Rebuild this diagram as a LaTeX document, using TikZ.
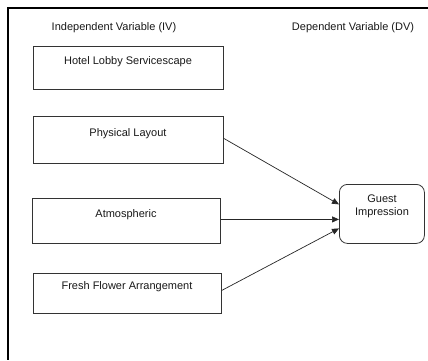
\documentclass[tikz,border=0pt]{standalone}
\usepackage{fontspec}
\setmainfont{Liberation Sans}
\usetikzlibrary{arrows.meta,calc}
\begin{document}
\begin{tikzpicture}[x=1pt,y=-1pt,
  box/.style={draw=black!80, line width=0.8pt, inner sep=0pt, anchor=north west},
  txt/.style={font=\fontsize{11}{13}\selectfont, text=black!90, inner sep=0pt},
  conn/.style={draw=black!85, line width=0.7pt, -{Triangle[length=7pt,width=6pt]}}]
\useasboundingbox (0,0) rectangle (428,360);
\fill[white] (0,0) rectangle (428,360);
\draw[line width=1.8pt] (428,8) -- (8,8) -- (8,360);
\node[txt] (iv) at (114,28) {Independent Variable (IV)};
\node[txt] (dv) at (353,28) {Dependent Variable (DV)};
\node[box, minimum width=190pt, minimum height=43pt] (hls) at (33,46) {};
\node[txt] (hlst) at (128,62) {Hotel Lobby Servicescape};
\node[box, minimum width=190pt, minimum height=47pt] (pl) at (33,116) {};
\node[txt] (plt) at (128,134) {Physical Layout};
\node[box, minimum width=188pt, minimum height=45pt] (at) at (32,198) {};
\node[txt] (att) at (126,215) {Atmospheric};
\node[box, minimum width=188pt, minimum height=40pt] (ff) at (33,273) {};
\node[txt] (fft) at (127,287) {Fresh Flower Arrangement};
\node[box, rounded corners=8pt, minimum width=85pt, minimum height=59pt] (gi) at (339,184) {};
\node[txt, align=center] (git) at (382,206.5) {Guest\\[-0.5pt]Impression};
\coordinate (e1) at ($(gi.west)+(0,-9.5)$);
\coordinate (e2) at ($(gi.west)+(0,5.5)$);
\coordinate (e3) at ($(gi.west)+(0,14.5)$);
\draw[conn] ($(pl.east)+(0,-1.5)$) -- (e1);
\draw[conn] ($(at.east)+(0,-1.5)$) -- (e2);
\draw[conn] ($(ff.east)+(0,-3)$) -- (e3);
\end{tikzpicture}
\end{document}
